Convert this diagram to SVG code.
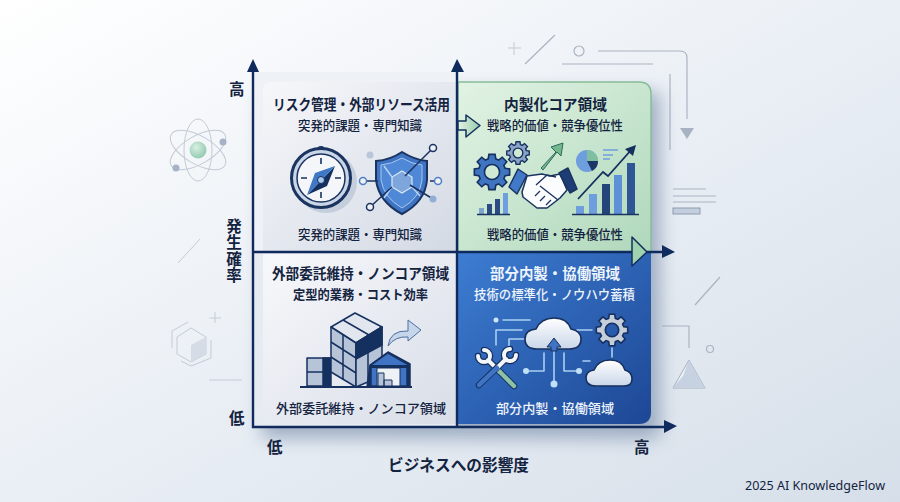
<svg xmlns="http://www.w3.org/2000/svg" xmlns:xlink="http://www.w3.org/1999/xlink" width="900" height="502" viewBox="0 0 900 502">
<style>
text{font-family:"Noto Sans CJK JP","Noto Sans",sans-serif;fill:#14233f}
.t{font-size:14.500px;font-weight:700}
.s{font-size:13px;font-weight:500}
.a{font-size:15.500px;font-weight:700}
.w{fill:#eef4fc}
.d{fill:none;stroke:#aab4c2;stroke-width:1.2}
.dl{fill:none;stroke:#c3cbd6;stroke-width:1}
.ax{fill:none;stroke:#0f2a5c;stroke-width:2.4}
.hd{fill:#0f2a5c}
.n{stroke:#1a335f;stroke-width:1.5;stroke-linejoin:round}
.l{fill:none;stroke:#a9d0f2;stroke-width:1.6;stroke-linecap:round;stroke-linejoin:round}
.cl{fill:url(#gc);stroke:#16305f;stroke-width:1.6}
</style>
<defs>
<linearGradient id="bg" x1="0" y1="0" x2="1" y2="1"><stop offset="0" stop-color="#ffffff"/><stop offset=".5" stop-color="#eaeff5"/><stop offset="1" stop-color="#d6dfe9"/></linearGradient>
<linearGradient id="gtl" x1="0" y1="0" x2="1" y2="1"><stop offset="0" stop-color="#f6f7fa"/><stop offset="1" stop-color="#d3d9e4"/></linearGradient>
<linearGradient id="gbl" x1="0" y1="0" x2="1" y2="1"><stop offset="0" stop-color="#f7f8fb"/><stop offset="1" stop-color="#d8dde7"/></linearGradient>
<linearGradient id="gtr" x1="0" y1="0" x2="1" y2="1"><stop offset="0" stop-color="#e2f3e4"/><stop offset="1" stop-color="#afd8bb"/></linearGradient>
<linearGradient id="gbr" x1="0" y1="0" x2="1" y2="1"><stop offset="0" stop-color="#3d7dd2"/><stop offset="1" stop-color="#1d4795"/></linearGradient>
<linearGradient id="gar" x1="0" y1="0" x2="1" y2="0"><stop offset="0" stop-color="#e4f2e6"/><stop offset="1" stop-color="#95cda6"/></linearGradient>
<linearGradient id="gc" x1="0" y1="0" x2="0" y2="1"><stop offset="0" stop-color="#ffffff"/><stop offset="1" stop-color="#c9d6e8"/></linearGradient>
<radialGradient id="gn" cx=".4" cy=".35" r=".7"><stop offset="0" stop-color="#d8f0e2"/><stop offset="1" stop-color="#8fc7ad"/></radialGradient>
<filter id="sh" x="-15%" y="-15%" width="130%" height="130%"><feGaussianBlur stdDeviation="9"/></filter>
<path id="gear" fill-rule="evenodd" d="M73-21L98-17L98 17L73 21L66 37L82 57L57 82L37 66L21 73L17 98L-17 98L-21 73L-37 66L-57 82L-82 57L-66 37L-73 21L-98 17L-98-17L-73-21L-66-37L-82-57L-57-82L-37-66L-21-73L-17-98L17-98L21-73L37-66L57-82L82-57L66-37ZM42 0A42 42 0 1 0-42 0A42 42 0 1 0 42 0Z"/>
</defs>
<rect width="900" height="502" fill="url(#bg)"/>
<g id="decor">
<ellipse class="dl" cx="198" cy="150" rx="14" ry="31"/>
<ellipse class="dl" cx="198" cy="150" rx="14" ry="31" transform="rotate(60 198 150)"/>
<ellipse class="dl" cx="198" cy="150" rx="14" ry="31" transform="rotate(-60 198 150)"/>
<circle cx="198" cy="150" r="8.5" fill="url(#gn)"/>
<circle cx="223" cy="142" r="3.5" fill="#a6b2c6"/><circle cx="176" cy="168" r="3.5" fill="#a6b2c6"/>
<path class="dl" d="M178 263L200 239M215 312V323M209.500 318H221M209 380H242"/>
<path class="dl" stroke-width="1.200" d="M191 328L206 337V354L191 362L177 354V337Z"/>
<path d="M191 345L206 337V354L191 362Z" fill="#d5dce6"/>
<path class="dl" d="M172 331L188 322M172 331V348M211 340V358L191 366L181 361"/>
<path class="dl" d="M508 48H521M514 42V55"/>
<path class="d" d="M525 64L555 35M598 51H680Q687 51 687 58V119M562 64H653M670 74V150"/>
<circle class="d" cx="579" cy="51" r="5"/>
<path d="M680 128H694L687 139Z" fill="#a8b3c1"/>
<path class="d" d="M673 189H706M673 196H716M673 202H716"/>
<rect x="673" y="208" width="27" height="6" fill="#c3cfdf" stroke="#8e9bb0"/>
<path class="d" d="M695 305L720 277M662 326H689V348"/>
<circle class="d" cx="710" cy="349" r="3.500"/>
<path d="M689 360L705 388H673Z" fill="#eef2f7" stroke="#a5afbd" stroke-width="1"/>
<path d="M689 360L705 388H673L683 376Z" fill="#c6d2e1"/>
</g>
<g id="shadow"><rect x="262" y="92" width="398" height="346" fill="#7f92ad" opacity=".7" filter="url(#sh)"/></g>
<g id="q-tl">
<rect x="254" y="72" width="203" height="179" fill="#eef1f6"/>
<path d="M271 82H456V251H263V90Q263 82 271 82Z" fill="url(#gtl)"/>
<text class="t" x="273" y="110" textLength="177" lengthAdjust="spacingAndGlyphs">リスク管理・外部リソース活用</text>
<text class="s" x="298" y="130" textLength="124" lengthAdjust="spacingAndGlyphs">突発的課題・専門知識</text>
<text class="s" x="298" y="239" textLength="124" lengthAdjust="spacingAndGlyphs">突発的課題・専門知識</text>
<g id="compass">
<ellipse cx="326" cy="182" rx="31" ry="31" fill="#b8c3d4" opacity=".7"/>
<circle cx="321" cy="150" r="4" fill="#1a335f"/>
<circle cx="321" cy="178" r="29.500" fill="#c9d6e8" stroke="#1a335f" stroke-width="3"/>
<circle cx="321" cy="178" r="24" fill="#f4f6fa" stroke="#1a335f" stroke-width="1.500"/>
<path d="M321 158V164M321 192V198M301 178H307M335 178H341" stroke="#1a335f" stroke-width="1.600"/>
<path d="M335 166L327 186L307 195Z" fill="#14305f"/>
<path d="M335 166L315 173L307 195Z" fill="#3e78c6"/>
<circle cx="321" cy="180" r="3.500" fill="#a9c8ee" stroke="#14305f"/>
</g>
<g id="shield">
<path d="M402 152Q415 160 427 161V180Q425 202 402 214Q379 202 376 180V161Q390 160 402 152Z" fill="#3f74c4" stroke="#1a335f" stroke-width="2"/>
<path d="M402 158Q412 164 422 165V180Q420 198 402 208Q384 198 381 180V165Q392 164 402 158Z" fill="#4f88d6" stroke="#a9c8ee" stroke-width="1"/>
<path d="M402 171L412 177V187L402 193L392 187V177Z" fill="#7da6dc" stroke="#dbe7f6" stroke-width="1.200"/>
<path d="M392 177L384 166M392 187L384 198M412 187L420 196" stroke="#bcd4f0" stroke-width="1.400"/>
<path d="M370 207L392 187M366 181H378M430 181H435M433 148L405 176M410 185L433 199" stroke="#1a335f" stroke-width="1.500" fill="none"/>
<circle cx="433" cy="148" r="3.500" fill="#eef2f7" stroke="#1a335f" stroke-width="1.500"/>
<circle cx="438" cy="181" r="3.500" fill="#eef2f7" stroke="#4f7fc0" stroke-width="1.500"/>
<circle cx="363" cy="181" r="3.500" fill="#eef2f7" stroke="#4f7fc0" stroke-width="1.500"/>
<circle cx="370" cy="207" r="3.500" fill="#eef2f7" stroke="#1a335f" stroke-width="1.500"/>
<circle cx="370" cy="155" r="3.500" fill="#b9c5d8"/>
<circle cx="433" cy="199" r="3.500" fill="#93aed4"/>
</g>
</g>
<g id="q-tr">
<path d="M458 82H639Q651 82 651 94V252H458Z" fill="url(#gtr)" stroke="#86bd98" stroke-width="1.500"/>
<text class="t" x="504" y="110" font-size="15" textLength="103" lengthAdjust="spacingAndGlyphs">内製化コア領域</text>
<text class="s" x="487" y="130" textLength="136" lengthAdjust="spacingAndGlyphs">戦略的価値・競争優位性</text>
<text class="s" x="487" y="239" textLength="136" lengthAdjust="spacingAndGlyphs">戦略的価値・競争優位性</text>
<use xlink:href="#gear" href="#gear" transform="translate(492 172) scale(.18)" fill="#3f74c0" stroke="#16305f" stroke-width="9"/>
<use xlink:href="#gear" href="#gear" transform="translate(518 153) scale(.115)" fill="#8aa4c8" stroke="#16305f" stroke-width="12"/>
<path d="M541 168L556 152L551 147L563 143L561 156L557 152L543 170Z" fill="#74b890" stroke="#2d6a58" stroke-width="1" stroke-linejoin="round"/>
<g id="handshake">
<path class="n" d="M527 176L542 174L550 176L560 174L567 190L560 198L547 208L537 208L523 197L522 192Z" fill="#fbfcfe"/>
<path d="M536 185L547 175L556 177M540 186L558 200M535 196L540 191M540 201L545 196M546 205L551 200" fill="none" stroke="#1a335f" stroke-width="1.300"/>
<path class="n" d="M518 169L527 175L517 194L509 187Z" fill="#4179c8"/>
<path class="n" d="M568 168L577 189L570 193L559 173Z" fill="#1f3d75"/>
</g>
<circle cx="587" cy="161" r="11" fill="#6f9ede"/>
<path d="M587 161V150A11 11 0 0 1 598 161Z" fill="#7fbf9f"/>
<path d="M587 161H598A11 11 0 0 1 592 171Z" fill="#1c3766"/>
<path d="M603 150H618M603 155H613M603 159H610" stroke="#6f9ede" stroke-width="1.500"/>
<g id="bars-s">
<rect x="479" y="208" width="5" height="6" fill="#7fa5cd"/><rect x="487" y="204" width="5" height="10" fill="#2a4b84"/><rect x="495" y="199" width="5" height="15" fill="#2a4b84"/><rect x="503" y="193" width="5" height="21" fill="#6f9ede"/>
<path d="M477 214.500H510" stroke="#1a335f" stroke-width="1.500"/>
</g>
<g id="bars-l">
<rect x="576" y="206" width="8" height="8" fill="#6f9ede"/><rect x="589" y="194" width="8" height="20" fill="#6f9ede"/><rect x="602" y="184" width="8" height="30" fill="#234579"/><rect x="614" y="175" width="8" height="39" fill="#5d90d6"/><rect x="627" y="163" width="8" height="51" fill="#2e5594"/>
<path d="M572 214.500H639" stroke="#1a335f" stroke-width="1.500"/>
<path d="M578 199L603 172L608 176L632 149" fill="none" stroke="#14305f" stroke-width="1.800"/>
<path d="M636 145L633 156L625 149Z" fill="#14305f"/>
</g>
</g>
<g id="q-bl">
<rect x="254" y="253" width="203" height="173" fill="#e6eaf1"/>
<path d="M263 254H456V424H275Q263 424 263 412Z" fill="url(#gbl)"/>
<text class="t" x="272" y="279" textLength="177" lengthAdjust="spacingAndGlyphs">外部委託維持・ノンコア領域</text>
<text class="s" x="293" y="299" textLength="135" lengthAdjust="spacingAndGlyphs" style="font-weight:700">定型的業務・コスト効率</text>
<text class="s" x="276" y="413" textLength="170" lengthAdjust="spacingAndGlyphs">外部委託維持・ノンコア領域</text>
<g id="boxes" stroke="#16305f" stroke-width="1.500" stroke-linejoin="round">
<rect x="307" y="358" width="23" height="28" fill="#b7c4d8"/>
<rect x="323" y="358" width="8" height="28" fill="#14305f"/>
<path d="M307 372H323" fill="none"/>
<path d="M331 327L355 313L382 327L356 343Z" fill="#e2e7ef"/>
<path d="M331 327L356 343V387L331 372Z" fill="#b7c4d8"/>
<path d="M356 343L382 327V376L356 387Z" fill="#b7c4d8"/>
<path d="M356 343L382 327V345L356 359Z" fill="#14305f"/>
<path d="M331 342L356 358M331 357L356 373M343 320L369 335M343 335V380M368 335V382" fill="none"/>
<path d="M367 387L370 365L388 352L410 364V387Z" fill="#14305f"/>
<path d="M371 365L388 353L409 365M371 368V386H407V368" fill="#3f74c4"/>
<rect x="377" y="368" width="23" height="18" fill="#eef1f6" stroke-width="1"/>
<path d="M378 373H384V386H378ZM384 380H392V386H384Z" fill="#b7c4d8" stroke-width="1"/>
<path d="M300 387H412" fill="none" stroke-width="2"/>
<path d="M388 346Q390 330 408 331V320L421 330L408 341V337Q395 336 388 346Z" fill="#c5d5ea" stroke="#4f6f9f" stroke-width="1"/>
</g>
</g>
<g id="q-br">
<path d="M458 252H651V412Q651 424 639 424H458Z" fill="url(#gbr)"/>
<text class="t w" x="490" y="279" textLength="130" lengthAdjust="spacingAndGlyphs">部分内製・協働領域</text>
<text class="s w" x="474" y="299" textLength="161" lengthAdjust="spacingAndGlyphs">技術の標準化・ノウハウ蓄積</text>
<text class="s w" x="496" y="413" textLength="118" lengthAdjust="spacingAndGlyphs">部分内製・協働領域</text>
<g id="cloud-lines">
<circle cx="496" cy="320" r="2.500" fill="#cfe4f7"/>
<path class="l" d="M503 320H530M522 330H496V345M524 339H509V347M577 330H592M583 361H590M612 348V357M544 353V371H529M564 353V371H577M554 348V384"/>
<circle cx="526" cy="371" r="3" fill="#bfe0f5"/><circle cx="579" cy="371" r="3" fill="#bfe0f5"/><circle cx="554" cy="384" r="3.500" fill="#bfe0f5"/>
</g>
<path class="cl" d="M537 349Q525 349 525 339Q525 330 536 329Q541 318 554 318Q567 318 571 329Q581 331 581 339Q581 349 569 349Z"/>
<path d="M554 338L547 347H551V351H557V347H561Z" fill="#3f74c4" stroke="#16305f" stroke-width="1"/>
<path class="cl" d="M596 386Q586 386 586 378Q586 371 594 370Q598 360 610 360Q622 360 625 370Q632 372 632 379Q632 386 624 386Z"/>
<use xlink:href="#gear" href="#gear" transform="translate(612 330) scale(.16)" fill="#c5cedb" stroke="#16305f" stroke-width="10"/>
<g id="tools" fill="none" stroke-linecap="round">
<path d="M484 350A6 6 0 1 1 478 356M488 360L514 386" stroke="#14305f" stroke-width="6.500"/>
<path d="M484 350A6 6 0 1 1 478 356M488 360L500 372" stroke="#f2f5f9" stroke-width="4"/>
<path d="M500 372L514 386" stroke="#8cc1a5" stroke-width="4.500"/>
<path d="M510 349A6 6 0 1 0 516 355M506 359L479 385" stroke="#14305f" stroke-width="6.500"/>
<path d="M510 349A6 6 0 1 0 516 355M506 359L497 368" stroke="#f2f5f9" stroke-width="4"/>
<path d="M497 368L479 385" stroke="#3f74c4" stroke-width="4.500"/>
</g>
</g>
<g id="connectors">
<path class="ax" d="M253 70V427H667M457 70V427M253 252H664"/>
<path class="hd" d="M247 72L253 59L259 72ZM451 72L457 59L464 72ZM662 245L675 252L662 258ZM664 420L677 426L664 433Z"/>
<path d="M458 121H466V115L480 125.500L466 137V130H458Z" fill="url(#gar)" stroke="#12305e" stroke-width="1.500" stroke-linejoin="round"/>
<path d="M632 237L647 252L632 266Z" fill="#9fd3b0" stroke="#12305e" stroke-width="1.500" stroke-linejoin="round"/>
</g>
<g id="labels">
<text class="a" x="229" y="95">高</text>
<text class="a" x="229" y="424">低</text>
<text class="a" x="267" y="453">低</text>
<text class="a" x="634" y="453">高</text>
<text class="a" x="234" y="218" textLength="65" style="writing-mode:vertical-rl;text-orientation:upright">発生確率</text>
<text class="a" x="388" y="471" textLength="141" lengthAdjust="spacingAndGlyphs">ビジネスへの影響度</text>
<text x="745" y="490" font-size="13" textLength="140" lengthAdjust="spacingAndGlyphs" style="font-family:'Noto Sans',sans-serif">2025 AI KnowledgeFlow</text>
</g>
</svg>
